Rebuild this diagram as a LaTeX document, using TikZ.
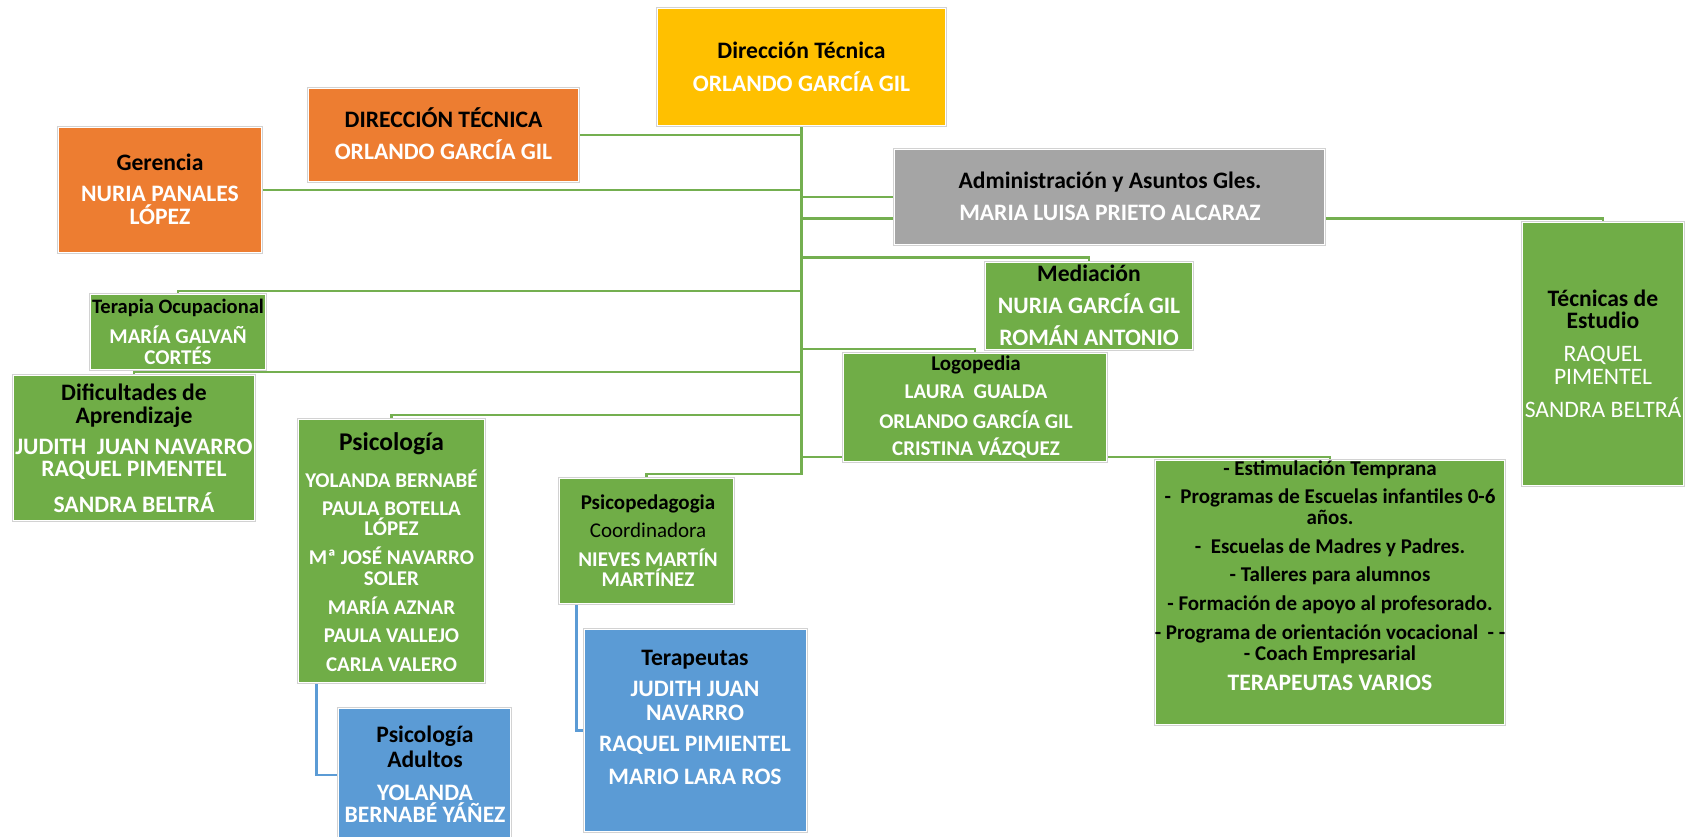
\documentclass[tikz,border=0pt]{standalone}
\usepackage{fontspec}
\setmainfont{Carlito}
\pgfdeclarelayer{bgwhite}
\pgfdeclarelayer{links}
\pgfsetlayers{bgwhite,links,main}
\definecolor{cgreen}{HTML}{70AD47}
\definecolor{lgreen}{HTML}{74AF50}
\definecolor{corange}{HTML}{ED7D31}
\definecolor{cyellow}{HTML}{FFC000}
\definecolor{cgray}{HTML}{A5A5A5}
\definecolor{cblue}{HTML}{5B9BD5}
\definecolor{cedge}{HTML}{D2D2D2}
\newcommand\orgA{\fontsize{23.6}{20}\selectfont\bfseries}
\newcommand\orgB{\fontsize{21}{20}\selectfont\bfseries}
\newcommand\blk[1]{\textcolor{black}{#1}}
\newcommand\rg[1]{{\mdseries #1}}
\tikzset{
  orgbox/.style={rectangle, inner sep=0pt, outer sep=0pt,
    preaction={draw=cedge, line width=3.5pt}, draw=white, line width=1.5pt},
  txt/.style={align=center, inner sep=0pt, text=white},
  conn/.style={draw=lgreen, line width=2.2pt},
  bconn/.style={draw=cblue, line width=2.2pt},
}
\begin{document}
\begin{tikzpicture}[x=1pt,y=-1pt]
\begin{pgfonlayer}{bgwhite}
\fill[white] (0,0) rectangle (1686,837);
\end{pgfonlayer}
\useasboundingbox (0,0) rectangle (1686,837);

% boxes
\node[orgbox, fill=cyellow, minimum width=288, minimum height=117] (dir) at (801.5,67) {};
\node[orgbox, fill=corange, minimum width=270, minimum height=93] (dt) at (443.5,135) {};
\node[orgbox, fill=corange, minimum width=203, minimum height=125] (ger) at (160,190) {};
\node[orgbox, fill=cgray, minimum width=430, minimum height=95] (adm) at (1109.5,197) {};
\node[orgbox, fill=cgreen, minimum width=161, minimum height=263] (tec) at (1603,354) {};
\node[orgbox, fill=cgreen, minimum width=207, minimum height=87] (med) at (1089,306) {};
\node[orgbox, fill=cgreen, minimum width=175, minimum height=75] (ter) at (178,332) {};
\node[orgbox, fill=cgreen, minimum width=263, minimum height=108] (logo) at (975,407.5) {};
\node[orgbox, fill=cgreen, minimum width=241, minimum height=145] (dif) at (134,448) {};
\node[orgbox, fill=cgreen, minimum width=186, minimum height=263] (psi) at (391.5,551) {};
\node[orgbox, fill=cgreen, minimum width=174, minimum height=125] (psp) at (646.5,541) {};
\node[orgbox, fill=cgreen, minimum width=349, minimum height=264] (est) at (1330,592.5) {};
\node[orgbox, fill=cblue, minimum width=222, minimum height=202] (tpa) at (695.5,730.5) {};
\node[orgbox, fill=cblue, minimum width=172, minimum height=133] (adu) at (424.5,775) {};

% texts
\node[txt, font=\orgA] (dirT) at (801.5,66.5) {\blk{Dirección Técnica}\\[13pt]ORLANDO GARCÍA GIL};
\node[txt, font=\orgA] (dtT) at (443.5,134) {\blk{DIRECCIÓN TÉCNICA}\\[12pt]ORLANDO GARCÍA GIL};
\node[txt, font=\orgA] (gerT) at (160,189.5) {\blk{Gerencia}\\[11pt]NURIA PANALES\\[3pt]LÓPEZ};
\node[txt, font=\orgA] (admT) at (1110,196) {\blk{Administración y Asuntos Gles.}\\[12pt]MARIA LUISA PRIETO ALCARAZ};
\node[txt, font=\orgA] (tecT) at (1603,353.5) {\blk{Técnicas de}\\[2pt]\blk{Estudio}\\[13pt]\rg{RAQUEL}\\[3pt]\rg{PIMENTEL}\\[13pt]\rg{SANDRA BELTRÁ}};
\node[txt, font=\orgA] (medT) at (1089,305) {\blk{Mediación}\\[12pt]NURIA GARCÍA GIL\\[12pt]ROMÁN ANTONIO};
\node[txt, font=\orgB] (terT) at (178,331.5) {\blk{\fontsize{20.5}{20}\selectfont Terapia Ocupacional}\\[8pt]MARÍA GALVAÑ\\[1pt]CORTÉS};
\node[txt, font=\orgB] (logoT) at (976,406.5) {\blk{Logopedia}\\[8pt]LAURA\ \ GUALDA\\[10pt]ORLANDO GARCÍA GIL\\[7pt]CRISTINA VÁZQUEZ};
\node[txt, font=\orgA] (difT) at (134,448) {\blk{Dificultades de}\\[3pt]\blk{Aprendizaje}\\[11pt]JUDITH\ \ JUAN NAVARRO\\[2.5pt]RAQUEL PIMENTEL\\[12pt]SANDRA BELTRÁ};
\node[txt, font=\orgB] (psiT) at (391.5,552) {\blk{\fontsize{25.5}{20}\selectfont Psicología}\\[14pt]YOLANDA BERNABÉ\\[8pt]PAULA BOTELLA\\LÓPEZ\\[9pt]Mª JOSÉ NAVARRO\\[1pt]SOLER\\[9pt]MARÍA AZNAR\\[8pt]PAULA VALLEJO\\[9pt]CARLA VALERO};
\node[txt, font=\orgB] (pspT) at (648,540.5) {\blk{Psicopedagogia}\\[8pt]\blk{\rg{Coordinadora}}\\[9pt]NIEVES MARTÍN\\MARTÍNEZ};
\node[txt, font=\orgB] (estT) at (1330,575.5) {\blk{- Estimulación Temprana}\\[8pt]\blk{-\ \ Programas de Escuelas infantiles 0-6}\\[1pt]\blk{años.}\\[9pt]\blk{-\ \ Escuelas de Madres y Padres.}\\[8pt]\blk{- Talleres para alumnos}\\[9pt]\blk{- Formación de apoyo al profesorado.}\\[9pt]\blk{- Programa de orientación vocacional\ \ - -}\\[1pt]\blk{- Coach Empresarial}\\[10pt]{\fontsize{23.6}{20}\selectfont TERAPEUTAS VARIOS}};
\node[txt, font=\orgA] (tpaT) at (695,717.5) {\blk{Terapeutas}\\[11pt]JUDITH JUAN\\[4pt]NAVARRO\\[11pt]RAQUEL PIMIENTEL\\[13pt]MARIO LARA ROS};
\node[txt, font=\orgA] (aduT) at (425,774) {\blk{Psicología}\\[3pt]\blk{Adultos}\\[13pt]YOLANDA\\[2pt]BERNABÉ YÁÑEZ};

% connectors
\begin{pgfonlayer}{links}
\draw[conn] (dir.south) |- (dt.east);
\draw[conn] (dir.south) |- (ger.east);
\draw[conn] (dir.south) |- (adm.west);
\draw[conn] (dir.south) |- ([yshift=4pt]tec.north) -- (tec.north);
\draw[conn] (dir.south) |- ([yshift=5pt]med.north) -- (med.north);
\draw[conn] (dir.south) |- ([yshift=3.5pt]ter.north) -- (ter.north);
\draw[conn] (dir.south) |- ([yshift=4.5pt]logo.north) -- (logo.north);
\draw[conn] (dir.south) |- ([yshift=3.5pt]dif.north) -- (dif.north);
\draw[conn] (dir.south) |- ([yshift=4.5pt]psi.north) -- (psi.north);
\draw[conn] (dir.south) |- ([yshift=3.5pt]est.north) -- (est.north);
\draw[conn] (dir.south) |- ([yshift=4.5pt]psp.north) -- (psp.north);
\draw[bconn] ([xshift=18pt]psi.south west) |- (adu.west);
\draw[bconn] ([xshift=17pt]psp.south west) |- (tpa.west);
\end{pgfonlayer}
\end{tikzpicture}
\end{document}
